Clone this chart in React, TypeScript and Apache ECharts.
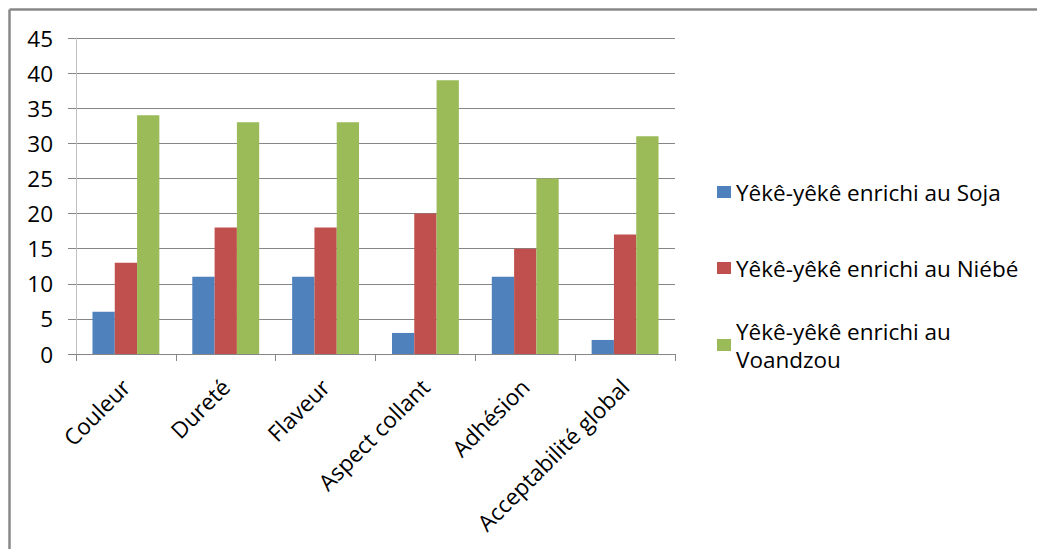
import React, { useEffect, useRef } from "react";
import * as echarts from "echarts";

const categories = ["Couleur", "Dureté", "Flaveur", "Aspect collant", "Adhésion", "Acceptabilité global"];
const seriesNames = [
  "Yêkê-yêkê enrichi au Soja",
  "Yêkê-yêkê enrichi au Niébé",
  "Yêkê-yêkê enrichi au Voandzou",
];
const soja = [6, 11, 11, 3, 11, 2];
const niebe = [13, 18, 18, 20, 15, 17];
const voandzou = [34, 33, 33, 39, 25, 31];
const colors = ["#4f81bd", "#c0504d", "#9bbb59"];

const FONT = "Open Sans";

export default function App() {
  const ref = useRef<HTMLDivElement>(null);
  useEffect(() => {
    if (!ref.current) return;
    const chart = echarts.init(ref.current, undefined, { renderer: "svg" });
    const values = [soja, niebe, voandzou];
    const legendTextBase = { fontFamily: FONT, fontSize: 22.5, color: "#000", lineHeight: 28 };
    chart.setOption({
      animation: false,
      backgroundColor: "#fff",
      grid: { left: 76, right: 362, top: 38, bottom: 195, containLabel: false },
      xAxis: {
        type: "category",
        data: categories,
        axisLine: { lineStyle: { color: "#868686", width: 1 } },
        axisTick: { show: true, length: 7, alignWithLabel: false, lineStyle: { color: "#868686" } },
        axisLabel: {
          rotate: 45,
          interval: 0,
          margin: 29,
          fontFamily: FONT,
          fontSize: 22.5,
          color: "#000",
        },
      },
      yAxis: {
        type: "value",
        min: 0,
        max: 45,
        interval: 5,
        axisLine: { show: true, lineStyle: { color: "#bfbfbf" } },
        axisTick: { show: true, length: 8, lineStyle: { color: "#868686" } },
        splitLine: { lineStyle: { color: "#868686", width: 1 } },
        axisLabel: { margin: 23, fontFamily: FONT, fontSize: 22.5, color: "#000" },
      },
      legend: [0, 1, 2].map((i) => ({
        data: [seriesNames[i]],
        orient: "vertical",
        left: 717,
        top: [178, 254, 303][i],
        padding: 0,
        itemWidth: 14,
        itemHeight: 12,
        itemGap: 5,
        icon: "rect",
        selectedMode: false,
        formatter: i === 2 ? () => "Yêkê-yêkê enrichi au\nVoandzou" : undefined,
        textStyle: i === 2 ? { ...legendTextBase, padding: [28, 0, 0, 0] } : legendTextBase,
      })),
      graphic: [
        { type: "line", shape: { x1: 9.5, y1: 9.5, x2: 1037, y2: 9.5 }, style: { stroke: "#888", lineWidth: 2.5 } },
        { type: "line", shape: { x1: 9.5, y1: 9.5, x2: 9.5, y2: 549 }, style: { stroke: "#888", lineWidth: 2.5 } },
      ],
      series: seriesNames.map((name, i) => ({
        name,
        type: "bar",
        data: values[i],
        itemStyle: { color: colors[i] },
        barGap: "0%",
        barCategoryGap: "33%",
      })),
    });
    return () => chart.dispose();
  }, []);
  return (
    <div style={{ position: "fixed", left: 0, top: 0, width: 1037, height: 549, overflow: "hidden" }}>
      <div ref={ref} style={{ width: 1037, height: 549 }} />
    </div>
  );
}
